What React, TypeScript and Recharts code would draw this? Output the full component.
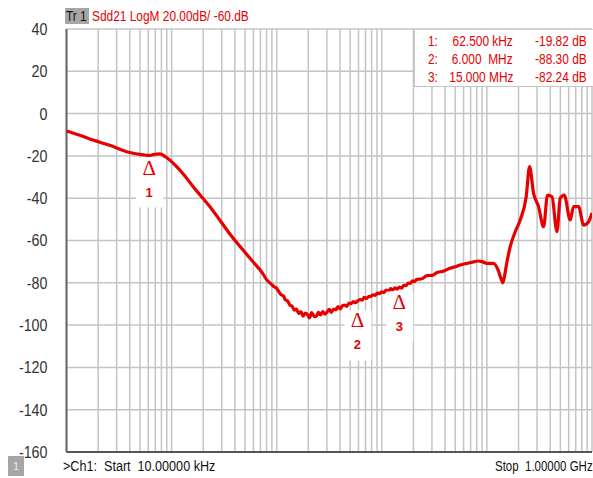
import React from 'react';
import {
  ComposedChart,
  Line,
  XAxis,
  YAxis,
  ReferenceLine,
  ReferenceDot,
} from 'recharts';

// Sdd21 trace, frequency in Hz, magnitude in dB
const freqHz = [
  1.0e4, 1.34e4, 1.79e4, 2.58e4, 3.73e4, 5.36e4, 6.25e4, 6.93e4, 7.74e4, 8.63e4,
  9.63e4, 1.116e5, 1.339e5, 1.606e5, 2.316e5, 3.728e5, 5.57e5, 7.5e5, 8.0e5, 8.5e5,
  9.0e5, 9.5e5,
  1.0e6, 1.05e6, 1.1e6, 1.16e6, 1.21e6, 1.27e6, 1.33e6, 1.4e6, 1.47e6, 1.54e6,
  1.62e6, 1.7e6, 1.78e6, 1.87e6, 1.96e6, 2.05e6, 2.15e6, 2.26e6, 2.37e6, 2.49e6,
  2.61e6, 2.74e6, 2.87e6, 3.01e6, 3.16e6, 3.32e6, 3.48e6, 3.65e6, 3.83e6, 4.02e6,
  4.22e6, 4.42e6, 4.64e6, 4.87e6, 5.11e6, 5.36e6, 5.62e6, 5.9e6, 6.0e6, 6.19e6,
  6.49e6, 6.81e6, 7.15e6, 7.5e6, 7.87e6, 8.25e6, 8.66e6, 9.09e6, 9.53e6,
  1.0e7, 1.05e7, 1.1e7, 1.16e7, 1.21e7, 1.27e7, 1.33e7, 1.4e7, 1.47e7, 1.5e7,
  1.54e7, 1.62e7, 1.7e7, 1.78e7, 1.87e7, 1.96e7, 2.05e7, 2.15e7, 2.4e7, 2.7e7,
  3.0e7, 3.4e7, 3.8e7, 4.47e7, 5.0e7, 5.57e7, 6.5e7, 7.5e7, 8.27e7, 9.0e7,
  1.0e8, 1.148e8, 1.28e8, 1.35e8, 1.419e8, 1.47e8, 1.528e8, 1.667e8, 1.85e8, 2.075e8,
  2.366e8, 2.546e8, 2.78e8, 3.1e8, 3.46e8, 3.776e8, 4.159e8, 4.64e8, 4.99e8, 5.445e8,
  6.21e8, 6.68e8, 7.45e8, 8.32e8, 9.29e8, 1.0e9,
];

const sdd21Db = [
  -8.2, -10.2, -12.5, -15.0, -18.0, -19.5, -19.82, -19.2, -19.0, -20.2,
  -22.0, -25.1, -29.5, -34.6, -44.0, -58.0, -68.4, -76.2, -78.5, -79.8,
  -80.9, -82.0,
  -82.6, -84.3, -85.6, -86.2, -88.1, -88.6, -90.4, -91.0, -92.9, -92.4,
  -94.6, -93.6, -95.8, -94.3, -95.0, -96.6, -94.1, -95.7, -96.0, -94.0,
  -95.2, -93.6, -94.8, -93.9, -92.6, -94.0, -92.4, -92.8, -91.3, -92.3,
  -90.8, -90.6, -91.1, -89.6, -89.9, -88.9, -89.4, -88.5, -88.3, -87.9,
  -88.2, -86.9, -87.4, -86.5, -86.4, -85.7, -85.9, -84.9, -85.1,
  -84.3, -84.6, -83.4, -84.0, -82.8, -83.4, -82.4, -83.0, -82.0, -82.24,
  -82.5, -81.2, -81.4, -80.1, -80.3, -79.1, -79.4, -78.4, -78.1, -76.6,
  -76.5, -75.0, -74.6, -73.1, -72.4, -71.6, -70.8, -70.1, -69.7, -70.0,
  -70.8, -70.8, -74.0, -77.5, -80.0, -77.0, -72.0, -62.9, -56.2, -50.3,
  -39.3, -25.1, -37.7, -44.0, -53.5, -38.5, -39.3, -55.8, -40.0, -38.5,
  -50.3, -44.0, -44.0, -52.7, -51.1, -47.0,
];

const yTicks = [40, 20, 0, -20, -40, -60, -80, -100, -120, -140, -160];

const decades = [1e4, 1e5, 1e6, 1e7, 1e8];
const gridFreqs: number[] = [];
decades.forEach((d) => {
  for (let m = 1; m <= 9; m++) gridFreqs.push(d * m);
});
gridFreqs.push(1e9);

const markerFreq = [62.5e3, 6.0e6, 15.0e6];
const markerDb = [-19.82, -88.3, -82.24];
const markerFreqLabel = ['62.500 kHz', '6.000  MHz', '15.000 MHz'];
const markerDbLabel = ['-19.82 dB', '-88.30 dB', '-82.24 dB'];
const markerDy = [3, 11, 5];

const data = freqHz.map((f, i) => ({ f, db: sdd21Db[i] }));

const RED = '#e60000';
const GRID = '#c4c4c4';
const SANS = "'Liberation Sans', Arial, sans-serif";

const squeeze = (k: number, origin = 'left top'): React.CSSProperties => ({
  transform: `scaleX(${k})`,
  transformOrigin: origin,
});

const YTick = (props: any) => {
  const { x, y, payload } = props;
  return (
    <text
      transform={`translate(${x},${y}) scale(0.84,1)`}
      textAnchor="end"
      dominantBaseline="central"
      fill="#333"
      fontSize={17}
      fontFamily={SANS}
    >
      {payload.value}
    </text>
  );
};

const MarkerGlyph = (props: any) => {
  const { cx, cy, idx } = props;
  if (cx == null || cy == null) return null;
  const top = cy + markerDy[idx];
  return (
    <g>
      <rect x={cx - 14} y={top - 1} width={27} height={50} fill="#fff" />
      <text
        x={cx - 1}
        y={top + 16}
        textAnchor="middle"
        fill={RED}
        fontSize={21}
        fontFamily="'Liberation Serif', serif"
      >
        Δ
      </text>
      <text
        x={cx - 1}
        y={top + 38}
        textAnchor="middle"
        fill={RED}
        fontSize={13}
        fontWeight="bold"
        fontFamily={SANS}
      >
        {idx + 1}
      </text>
    </g>
  );
};

export default function App() {
  return (
    <div
      style={{
        position: 'absolute',
        left: 0,
        top: 0,
        width: 593,
        height: 478,
        background: '#fff',
        overflow: 'hidden',
      }}
    >
      <ComposedChart
        width={593}
        height={478}
        data={data}
        margin={{ top: 29, right: 1, left: 0, bottom: 26 }}
      >
        <XAxis
          dataKey="f"
          type="number"
          scale="log"
          domain={[1e4, 1e9]}
          allowDataOverflow
          height={0}
          tick={false}
          tickLine={false}
          axisLine={false}
        />
        <YAxis
          type="number"
          domain={[-160, 40]}
          ticks={yTicks}
          interval={0}
          width={66.5}
          tickLine={false}
          tickSize={0}
          tickMargin={19}
          axisLine={false}
          tick={<YTick />}
        />
        {gridFreqs.map((f) => (
          <ReferenceLine key={`v-${f}`} x={f} stroke={GRID} strokeWidth={1.5} />
        ))}
        {yTicks.map((v) => (
          <ReferenceLine key={`h-${v}`} y={v} stroke={GRID} strokeWidth={1.5} />
        ))}
        <ReferenceLine x={1e4} stroke="#666" strokeWidth={2} />
        <ReferenceLine y={-160} stroke="#555" strokeWidth={2} />
        {markerFreq.map((f, i) => (
          <ReferenceDot
            key={`m-${i}`}
            x={f}
            y={markerDb[i]}
            r={0}
            shape={(p: any) => <MarkerGlyph {...p} idx={i} />}
          />
        ))}
        <Line
          dataKey="db"
          stroke={RED}
          strokeWidth={3.2}
          dot={false}
          type="monotone"
          isAnimationActive={false}
        />
      </ComposedChart>

      {/* trace header */}
      <div
        style={{
          position: 'absolute',
          left: 65,
          top: 8,
          height: 16,
          width: 24,
          background: '#a6a6a6',
        }}
      />
      <div
        style={{
          position: 'absolute',
          left: 66,
          top: 7,
          color: '#111',
          fontFamily: SANS,
          fontSize: 14,
          lineHeight: '18px',
          whiteSpace: 'pre',
          ...squeeze(0.85),
        }}
      >
        Tr 1
      </div>
      <div
        style={{
          position: 'absolute',
          left: 92,
          top: 7,
          color: RED,
          fontFamily: SANS,
          fontSize: 14,
          lineHeight: '18px',
          whiteSpace: 'pre',
          ...squeeze(0.85),
        }}
      >
        Sdd21 LogM 20.00dB/ -60.dB
      </div>

      {/* marker table */}
      <div
        style={{
          position: 'absolute',
          left: 414,
          top: 30,
          width: 179,
          height: 56,
          background: '#fff',
          borderLeft: '1px solid #c4c4c4',
          borderBottom: '1px solid #c4c4c4',
        }}
      />
      {markerFreq.map((_, i) => (
        <React.Fragment key={`row-${i}`}>
          <div
            style={{
              position: 'absolute',
              top: 32 + i * 18,
              left: 428,
              color: RED,
              fontFamily: SANS,
              fontSize: 14,
              lineHeight: '18px',
              whiteSpace: 'pre',
              ...squeeze(0.85),
            }}
          >
            {`${i + 1}:`}
          </div>
          <div
            style={{
              position: 'absolute',
              top: 32 + i * 18,
              right: 80,
              color: RED,
              fontFamily: SANS,
              fontSize: 14,
              lineHeight: '18px',
              whiteSpace: 'pre',
              ...squeeze(0.85, 'right top'),
            }}
          >
            {markerFreqLabel[i]}
          </div>
          <div
            style={{
              position: 'absolute',
              top: 32 + i * 18,
              right: 6,
              color: RED,
              fontFamily: SANS,
              fontSize: 14,
              lineHeight: '18px',
              whiteSpace: 'pre',
              ...squeeze(0.85, 'right top'),
            }}
          >
            {markerDbLabel[i]}
          </div>
        </React.Fragment>
      ))}

      {/* footer */}
      <div
        style={{
          position: 'absolute',
          left: 8,
          top: 456,
          width: 16,
          height: 20,
          background: '#a6a6a6',
          color: '#eee',
          fontFamily: SANS,
          fontSize: 11,
          lineHeight: '20px',
          textAlign: 'center',
        }}
      >
        1
      </div>
      <div
        style={{
          position: 'absolute',
          left: 63,
          top: 457,
          color: '#111',
          fontFamily: SANS,
          fontSize: 14,
          lineHeight: '18px',
          whiteSpace: 'pre',
          ...squeeze(0.9),
        }}
      >
        {'>Ch1:  Start  10.00000 kHz'}
      </div>
      <div
        style={{
          position: 'absolute',
          left: 495,
          top: 457,
          color: '#111',
          fontFamily: SANS,
          fontSize: 14,
          lineHeight: '18px',
          whiteSpace: 'pre',
          ...squeeze(0.82),
        }}
      >
        {'Stop  1.00000 GHz'}
      </div>
    </div>
  );
}
